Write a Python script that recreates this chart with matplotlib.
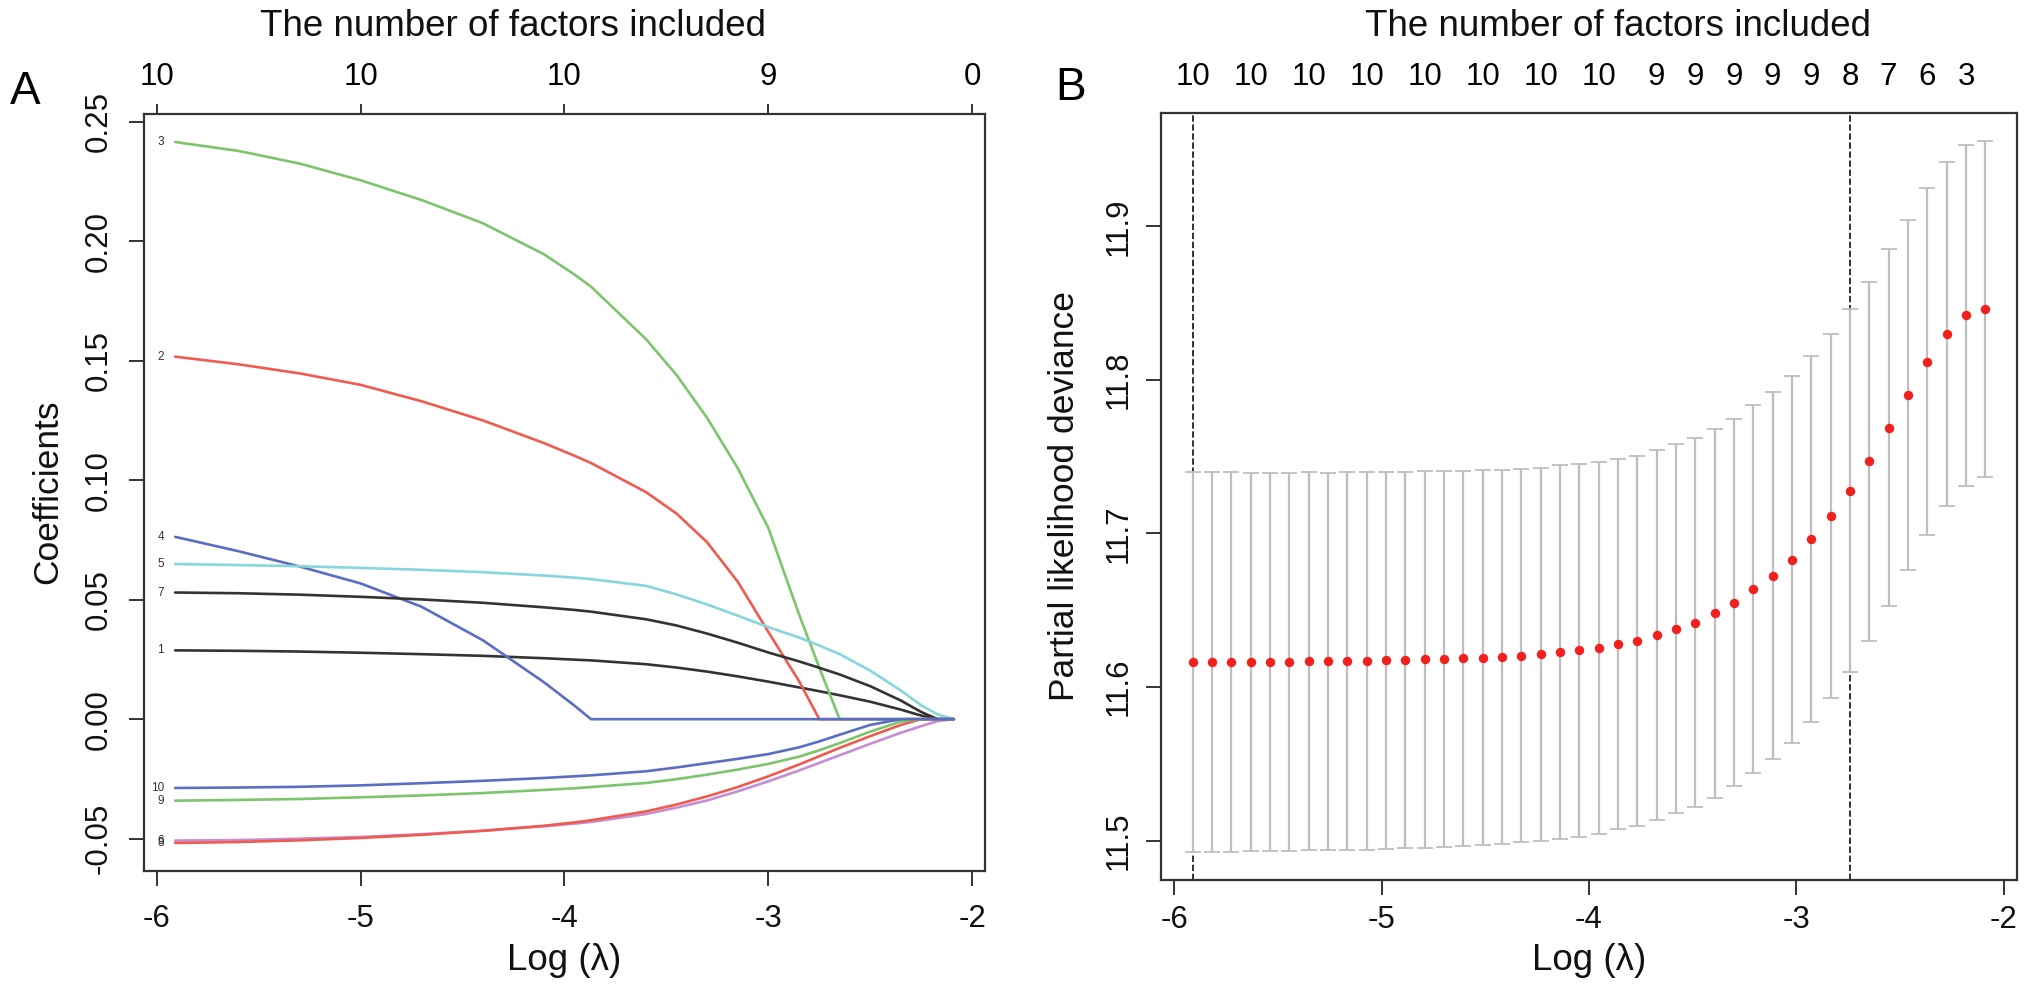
import numpy as np
import matplotlib
matplotlib.use('Agg')
import matplotlib.pyplot as plt
from matplotlib.ticker import FormatStrFormatter

plt.rcParams['font.family'] = ['Liberation Sans', 'DejaVu Sans']
plt.rcParams['axes.unicode_minus'] = False

# ---- panel A: lasso coefficient paths ----
path_loglam = [-5.91, -5.6, -5.3, -5.0, -4.7, -4.4, -4.1, -3.95, -3.87, -3.6, -3.45,
               -3.3, -3.15, -3.0, -2.85, -2.75, -2.65, -2.5, -2.35, -2.25, -2.17, -2.09]
coef_1 = [0.0288, 0.0286, 0.0283, 0.0278, 0.0272, 0.0265, 0.0255, 0.0249, 0.0246, 0.0230, 0.0216,
          0.0199, 0.0179, 0.0157, 0.0133, 0.0117, 0.0100, 0.0073, 0.0040, 0.0015, 0.0, 0.0]
coef_2 = [0.1517, 0.1485, 0.1447, 0.1399, 0.1330, 0.1250, 0.1155, 0.1102, 0.1072, 0.0950, 0.0860,
          0.0740, 0.0575, 0.0365, 0.0160, 0.0, 0.0, 0.0, 0.0, 0.0, 0.0, 0.0]
coef_3 = [0.2415, 0.2378, 0.2325, 0.2255, 0.2172, 0.2075, 0.1945, 0.1860, 0.1810, 0.1590, 0.1440,
          0.1260, 0.1050, 0.0800, 0.0440, 0.0215, 0.0, 0.0, 0.0, 0.0, 0.0, 0.0]
coef_4 = [0.0763, 0.0703, 0.0639, 0.0568, 0.0470, 0.0330, 0.0154, 0.0056, 0.0, 0.0, 0.0,
          0.0, 0.0, 0.0, 0.0, 0.0, 0.0, 0.0, 0.0, 0.0, 0.0, 0.0]
coef_5 = [0.0649, 0.0645, 0.0640, 0.0633, 0.0625, 0.0615, 0.0601, 0.0592, 0.0586, 0.0558, 0.0522,
          0.0480, 0.0433, 0.0385, 0.0342, 0.0308, 0.0272, 0.0203, 0.0120, 0.0058, 0.0020, 0.0]
coef_6 = [-0.0508, -0.0506, -0.0500, -0.0493, -0.0481, -0.0467, -0.0448, -0.0437, -0.0430, -0.0397, -0.0370,
          -0.0340, -0.0302, -0.0260, -0.0215, -0.0183, -0.0151, -0.0103, -0.0057, -0.0029, -0.0008, 0.0]
coef_7 = [0.0530, 0.0527, 0.0521, 0.0512, 0.0501, 0.0487, 0.0468, 0.0457, 0.0450, 0.0418, 0.0392,
          0.0358, 0.0320, 0.0279, 0.0242, 0.0215, 0.0187, 0.0138, 0.0078, 0.0030, 0.0, 0.0]
coef_8 = [-0.0518, -0.0514, -0.0507, -0.0497, -0.0484, -0.0467, -0.0446, -0.0432, -0.0423, -0.0386, -0.0357,
          -0.0323, -0.0284, -0.0239, -0.0190, -0.0155, -0.0120, -0.0071, -0.0024, 0.0, 0.0, 0.0]
coef_9 = [-0.0341, -0.0338, -0.0334, -0.0327, -0.0319, -0.0309, -0.0296, -0.0289, -0.0284, -0.0267, -0.0251,
          -0.0232, -0.0211, -0.0187, -0.0157, -0.0130, -0.0100, -0.0052, -0.0010, 0.0, 0.0, 0.0]
coef_10 = [-0.0288, -0.0286, -0.0283, -0.0277, -0.0268, -0.0258, -0.0246, -0.0239, -0.0235, -0.0218, -0.0202,
           -0.0184, -0.0166, -0.0146, -0.0118, -0.0093, -0.0065, -0.0024, 0.0, 0.0, 0.0, 0.0]
coefs = [coef_1, coef_2, coef_3, coef_4, coef_5, coef_6, coef_7, coef_8, coef_9, coef_10]
coef_names = ['1', '2', '3', '4', '5', '6', '7', '8', '9', '10']
# R style palette of six colours, cycled over the ten variables
palette6 = ['#333333', '#EF5B4E', '#7CC56C', '#5A6DC3', '#87D6DC', '#C68CD4']

top_ticks_a = [-6, -5, -4, -3, -2]
top_labels_a = ['10', '10', '10', '9', '0']

# ---- panel B: cross-validated partial likelihood deviance ----
cv_loglam = [-5.910, -5.817, -5.724, -5.630, -5.537, -5.444, -5.351, -5.258, -5.165, -5.071,
             -4.978, -4.885, -4.792, -4.699, -4.606, -4.512, -4.419, -4.326, -4.233, -4.140,
             -4.047, -3.953, -3.860, -3.767, -3.674, -3.581, -3.488, -3.394, -3.301, -3.208,
             -3.115, -3.022, -2.929, -2.835, -2.742, -2.649, -2.556, -2.463, -2.370, -2.276,
             -2.183, -2.090]
cv_mean = [11.6163, 11.6163, 11.6163, 11.6163, 11.6163, 11.6165, 11.6167, 11.6167, 11.6169, 11.6170,
           11.6174, 11.6176, 11.6180, 11.6183, 11.6187, 11.6191, 11.6198, 11.6204, 11.6213, 11.6228,
           11.6240, 11.6256, 11.6280, 11.6300, 11.6340, 11.6380, 11.6420, 11.6480, 11.6550, 11.6640,
           11.6726, 11.6830, 11.6965, 11.7115, 11.7280, 11.7470, 11.7690, 11.7900, 11.8120, 11.8300,
           11.8420, 11.8460]
cv_se = [0.1235, 0.1235, 0.1235, 0.1233, 0.1232, 0.1232, 0.1231, 0.1230, 0.1230, 0.1229,
         0.1228, 0.1227, 0.1226, 0.1224, 0.1222, 0.1220, 0.1218, 0.1216, 0.1215, 0.1217,
         0.1214, 0.1211, 0.1208, 0.1206, 0.1204, 0.1203, 0.1201, 0.1200, 0.1198, 0.1197,
         0.1196, 0.1194, 0.1192, 0.1186, 0.1180, 0.1170, 0.1160, 0.1140, 0.1130, 0.1120,
         0.1110, 0.1094]
cv_nzero = [10] * 23 + [9] * 11 + [8, 8, 7, 7, 6, 6, 3, 0]
shown_top = [0, 3, 6, 9, 12, 15, 18, 21, 24, 26, 28, 30, 32, 34, 36, 38, 40]
idx_min = 0
idx_1se = 34

W, H = 2031, 986
fig = plt.figure(figsize=(W / 100, H / 100), dpi=100)

TICK_FS = 22.5
LAB_FS = 26.5


def px_box(left, right, top, bottom):
    return [left / W, 1 - bottom / H, (right - left) / W, (bottom - top) / H]


def r_range(vals):
    lo, hi = min(vals), max(vals)
    pad = 0.04 * (hi - lo)
    return lo - pad, hi + pad


def style_axes(ax, ypad):
    for s in ax.spines.values():
        s.set_linewidth(1.6)
        s.set_color('#333333')
    ax.tick_params(axis='both', direction='out', length=11, width=1.4, color='#333333',
                   labelsize=TICK_FS, labelcolor='#111111')
    ax.tick_params(axis='y', labelrotation=90, pad=ypad)
    for lab in ax.get_yticklabels():
        lab.set_va('center')


# ---------------- panel A ----------------
axA = fig.add_axes(px_box(144, 985, 114, 871))
for i, c in enumerate(coefs):
    axA.plot(path_loglam, c, color=palette6[i % 6], lw=1.9, solid_capstyle='round',
             solid_joinstyle='round')
    axA.text(path_loglam[0] - 0.055, c[0], coef_names[i], fontsize=8.5, color='#333333',
             ha='right', va='center')
axA.set_xlim(r_range(path_loglam))
axA.set_ylim(r_range([v for c in coefs for v in c]))
axA.set_xticks([-6, -5, -4, -3, -2])
axA.set_yticks([-0.05, 0.0, 0.05, 0.10, 0.15, 0.20, 0.25])
axA.yaxis.set_major_formatter(FormatStrFormatter('%.2f'))
style_axes(axA, 11)
axA.tick_params(axis='x', pad=13)
topA = axA.secondary_xaxis('top')
topA.set_ticks(top_ticks_a, labels=top_labels_a)
topA.tick_params(direction='out', length=7, width=1.4, color='#333333', labelsize=TICK_FS, pad=9)
topA.spines['top'].set_visible(False)

# ---------------- panel B ----------------
axB = fig.add_axes(px_box(1161, 2017, 113, 880))
cv_lo = [m - s for m, s in zip(cv_mean, cv_se)]
cv_hi = [m + s for m, s in zip(cv_mean, cv_se)]
axB.errorbar(cv_loglam, cv_mean, yerr=cv_se, fmt='none', ecolor='#BEBEBE',
             elinewidth=1.6, capsize=5.5, capthick=1.3, zorder=2)
axB.plot(cv_loglam, cv_mean, 'o', color='#F2201C', ms=6.8, mec='none', zorder=3)
for k in (idx_min, idx_1se):
    axB.axvline(cv_loglam[k], color='#222222', lw=1.3, ls=(0, (3.5, 1.5)), zorder=1)
axB.set_xlim(r_range(cv_loglam))
axB.set_ylim(r_range(cv_lo + cv_hi))
axB.set_xticks([-6, -5, -4, -3, -2])
axB.set_yticks([11.5, 11.6, 11.7, 11.8, 11.9])
axB.yaxis.set_major_formatter(FormatStrFormatter('%.1f'))
style_axes(axB, 9)
axB.tick_params(axis='x', pad=7)
topB = axB.secondary_xaxis('top')
topB.set_ticks([cv_loglam[k] for k in shown_top], labels=[str(cv_nzero[k]) for k in shown_top])
topB.tick_params(length=0, labelsize=TICK_FS, pad=15)
topB.spines['top'].set_visible(False)

# ---------------- titles and labels ----------------
for xc in (513, 1618):
    fig.text(xc / W, 1 - 26 / H, 'The number of factors included', fontsize=LAB_FS,
             ha='center', va='center', color='#111111')
for xc in (564, 1589):
    fig.text(xc / W, 1 - 960 / H, 'Log (λ)', fontsize=LAB_FS, ha='center', va='center',
             color='#111111')
fig.text(48 / W, 1 - 492 / H, 'Coefficients', fontsize=LAB_FS - 1, rotation=90,
         ha='center', va='center', color='#111111')
fig.text(1064 / W, 1 - 496 / H, 'Partial likelihood deviance', fontsize=LAB_FS - 1, rotation=90,
         ha='center', va='center', color='#111111')
fig.text(25 / W, 1 - 92 / H, 'A', fontsize=33, ha='center', va='center')
fig.text(1071 / W, 1 - 88 / H, 'B', fontsize=33, ha='center', va='center')

fig.savefig('out.png', dpi=100)
